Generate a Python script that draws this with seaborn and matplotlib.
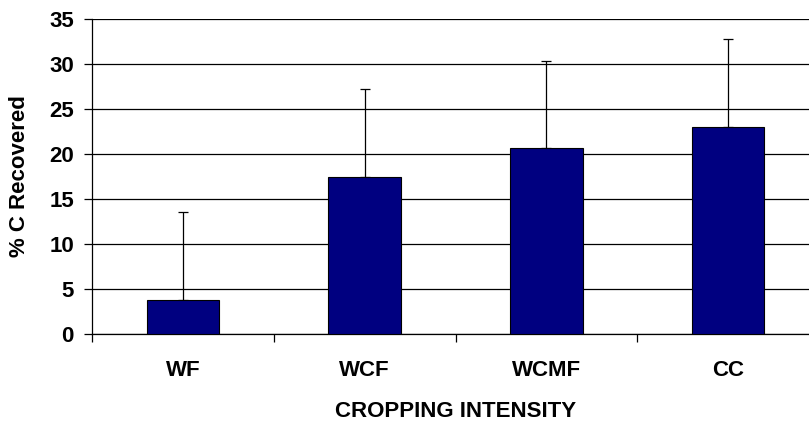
import pandas as pd
import matplotlib
matplotlib.use("Agg")
import matplotlib.pyplot as plt
import seaborn as sns

CATEGORIES = ["WF", "WCF", "WCMF", "CC"]
C_RECOVERED = [3.8, 17.4, 20.6, 23.0]
ERR_UP = [9.7, 9.8, 9.7, 9.7]
Y_TICKS = [0, 5, 10, 15, 20, 25, 30, 35]


# ------------------------------------------------------------------------------
def main():
    sns.set_theme(style = "white", rc = {
        "text.color": "black", "axes.labelcolor": "black",
        "xtick.color": "black", "ytick.color": "black",
    })
    plt.rcParams["font.family"] = ["Liberation Sans", "DejaVu Sans"]
    plt.rcParams["font.weight"] = "bold"

    df = pd.DataFrame({"crop": CATEGORIES, "pct": C_RECOVERED})

    fig = plt.figure(figsize = (8.09, 4.25), dpi = 100)
    # axes run a little past the right edge of the picture, as in the original
    ax = fig.add_axes([92/809, 1 - 334/425, 727/809, (334 - 18.7)/425])

    sns.barplot(
        data = df, x = "crop", y = "pct", order = CATEGORIES,
        color = "#000080", saturation = 1, width = 0.4,
        edgecolor = "black", linewidth = 0.8, errorbar = None, ax = ax, zorder = 3,
    )
    ax.errorbar(
        x = range(len(CATEGORIES)), y = C_RECOVERED,
        yerr = [[0]*len(ERR_UP), ERR_UP],
        fmt = "none", ecolor = "black", elinewidth = 0.9, capsize = 3.5, capthick = 0.9, zorder = 2,
    )

    ax.set_xlim(-0.5, 3.5)
    ax.set_ylim(0, 35)
    ax.set_yticks(Y_TICKS)
    ax.yaxis.grid(True, color = "black", linewidth = 0.9)
    ax.set_axisbelow(True)

    # category ticks sit between the bars
    ax.set_xticks([-0.5, 0.5, 1.5, 2.5, 3.5], minor = True)
    ax.tick_params(axis = "x", which = "minor", direction = "out", length = 6, width = 0.9, color = "black", bottom = True)
    ax.tick_params(axis = "x", which = "major", length = 0, pad = 19, labelsize = 16)
    ax.tick_params(axis = "y", direction = "out", length = 6, width = 0.9, color = "black", left = True, labelsize = 16, pad = 7)

    for side in ("top", "right"):
        ax.spines[side].set_visible(False)
    for side in ("left", "bottom"):
        ax.spines[side].set_color("black")
        ax.spines[side].set_linewidth(0.9)

    ax.set_xlabel("CROPPING INTENSITY", fontsize = 16, fontweight = "bold", labelpad = 14)
    ax.set_ylabel("% C Recovered", fontsize = 16, fontweight = "bold", labelpad = 14)

    fig.savefig("out.png", dpi = 100)


################################################################################
if __name__ == "__main__":
    main()
